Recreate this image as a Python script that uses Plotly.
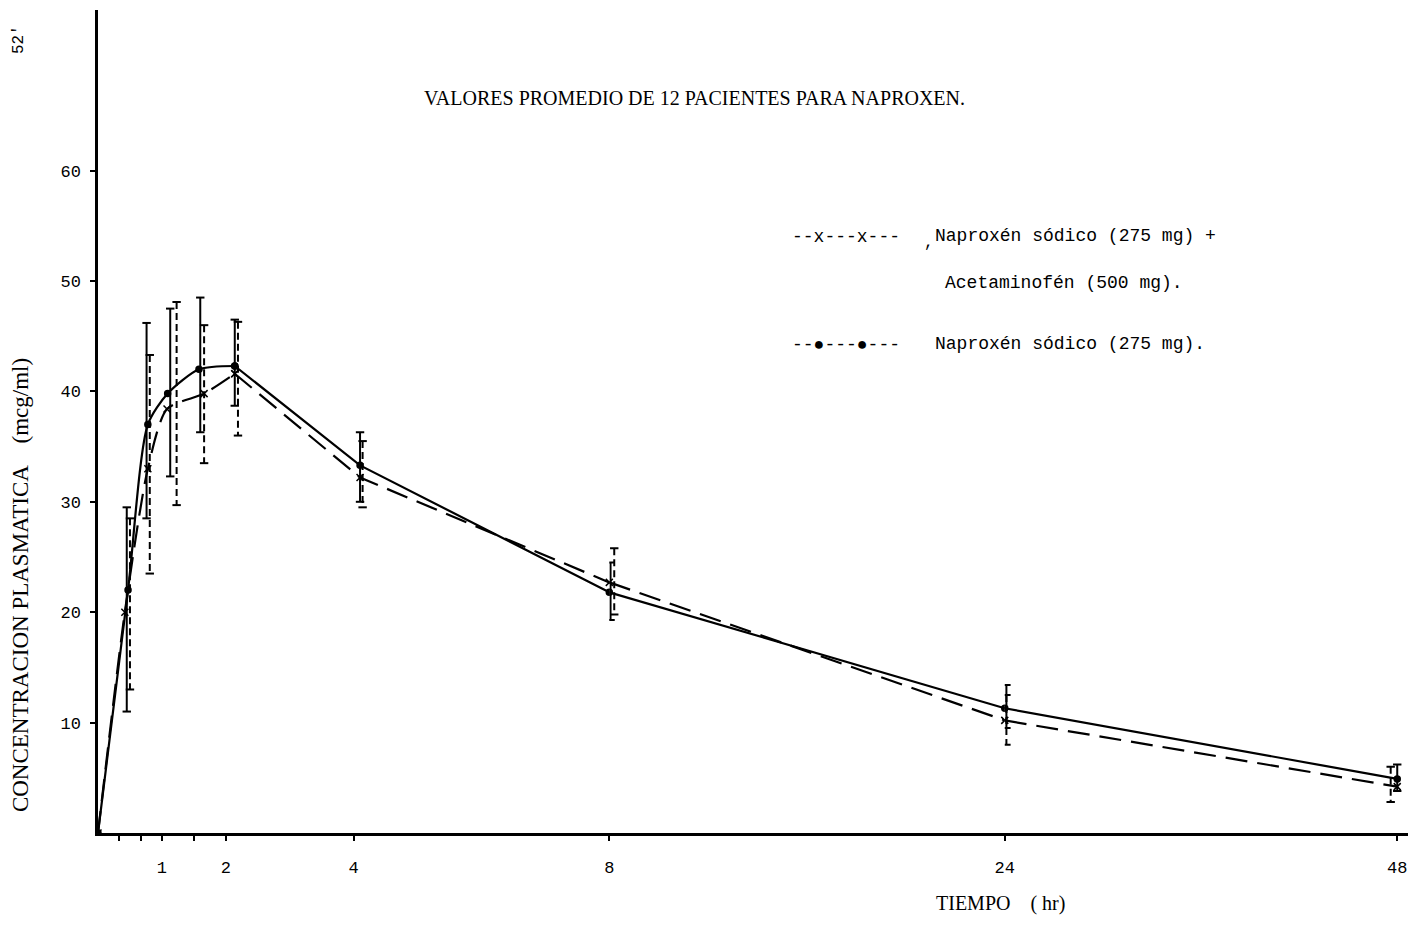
import plotly.graph_objects as go

# ---------------- data ----------------
# Naproxén sódico (275 mg)  -> solid line, dots
t_nap = [0, 0.47, 0.78, 1.09, 1.58, 2.14, 4.1, 8, 24, 48]
c_nap = [0, 22.0, 37.0, 39.8, 42.0, 42.3, 33.3, 21.8, 11.3, 4.9]
bar_t_nap = [0.45, 0.76, 1.13, 1.60, 2.14, 4.10, 8.05, 24.1, 48.0]
bar_hi_nap = [29.5, 46.2, 47.5, 48.5, 46.5, 36.3, 24.5, 13.4, 6.2]
bar_lo_nap = [11.0, 28.5, 32.3, 36.3, 38.7, 30.0, 19.3, 9.5, 3.8]

# Naproxén sódico (275 mg) + Acetaminofén (500 mg) -> dashed line, x
t_comb = [0, 0.42, 0.78, 1.08, 1.66, 2.14, 4.1, 8, 24, 48]
c_comb = [0, 20.0, 33.0, 38.4, 39.8, 41.6, 32.2, 22.7, 10.2, 4.2]
bar_t_comb = [0.50, 0.81, 1.23, 1.66, 2.19, 4.14, 8.20, 24.1, 47.6]
bar_hi_comb = [28.5, 43.3, 48.1, 46.0, 46.3, 35.5, 25.8, 12.5, 6.0]
bar_lo_comb = [13.0, 23.5, 29.7, 33.5, 36.0, 29.5, 19.8, 8.0, 2.8]

# axis ticks
x1_tickvals = [0.33, 0.67, 1, 1.5, 2, 4, 8]
x1_ticktext = ["", "", "1", "", "2", "4", "8"]
x2_tickvals = [24]
x2_ticktext = ["24"]
x3_tickvals = [48]
x3_ticktext = ["48"]
y_tickvals = [10, 20, 30, 40, 50, 60]

title_text = "VALORES PROMEDIO DE 12 PACIENTES PARA NAPROXEN."
ytitle_text = "CONCENTRACION PLASMATICA    (mcg/ml)"
xtitle_text = "TIEMPO    ( hr)"
leg1_sym = "--x---x---"
leg1_a = "Naproxén sódico (275 mg) +"
leg1_b = "Acetaminofén (500 mg)."
leg2_sym = "--●---●---"
leg2_a = "Naproxén sódico (275 mg)."

# ---------------- layout geometry ----------------
W, H = 1418, 949
SX = 1 / 0.9935          # horizontal compensation for the rendered picture
L = 97 * SX
T, B = 10, 833
R = W                     # right end of the x axis
PW, PH = R - L, B - T
X8, X24, X48 = 609 * SX, 1005 * SX, 1398 * SX
d1 = (X8 - L) / PW
d2 = (X24 - L) / PW
x3_max = 24 + 24 * (R - X24) / (X48 - X24)
y_max = (B - T) / 11.04
T_BREAK = 2.14   # curve is rounded up to the peak, straight afterwards


def px(x):
    return (x * SX - L) / PW


def py(y):
    return (B - y) / PH


segments = [("x", 0, 8), ("x2", 8, 24), ("x3", 24, 48.01)]

fig = go.Figure()

MONO = "Liberation Mono"
SERIF = "Liberation Serif"


def line_trace(xs, ys, ax, dash, shape, symbol, msize):
    fig.add_trace(go.Scatter(
        x=xs, y=ys, xaxis=ax, yaxis="y", mode="lines+markers",
        line=dict(color="black", width=2.2, dash=dash, shape=shape, smoothing=0.7),
        marker=dict(symbol=symbol, size=msize, color="black",
                    line=dict(color="black", width=1.5)),
        showlegend=False, hoverinfo="skip"))


def add_series(ts, cs, dash, symbol, msize):
    xs = [t for t in ts if t <= T_BREAK]
    ys = [c for t, c in zip(ts, cs) if t <= T_BREAK]
    line_trace(xs, ys, "x", dash, "spline", symbol, msize)
    xs = [t for t in ts if T_BREAK <= t <= 8]
    ys = [c for t, c in zip(ts, cs) if T_BREAK <= t <= 8]
    line_trace(xs, ys, "x", dash, "linear", symbol, msize)
    for ax, a, b in segments[1:]:
        xs = [t for t in ts if a <= t <= b]
        ys = [c for t, c in zip(ts, cs) if a <= t <= b]
        line_trace(xs, ys, ax, dash, "linear", symbol, msize)


def add_bars(bt, hi, lo, dash):
    for ax, a, b in segments:
        xs, ys = [], []
        for t, h, l in zip(bt, hi, lo):
            if a <= t < b:
                xs += [t, t, None]
                ys += [h, l, None]
        if xs:
            fig.add_trace(go.Scatter(
                x=xs, y=ys, xaxis=ax, yaxis="y", mode="lines+markers",
                line=dict(color="black", width=2, dash=dash),
                marker=dict(symbol="line-ew-open", size=6, color="black",
                            line=dict(color="black", width=2)),
                showlegend=False, hoverinfo="skip"))


add_bars(bar_t_nap, bar_hi_nap, bar_lo_nap, "solid")
add_bars(bar_t_comb, bar_hi_comb, bar_lo_comb, "7px,4px")
add_series(t_nap, c_nap, "solid", "circle", 6)
add_series(t_comb, c_comb, "22px,10px", "x-thin-open", 7)

axis_common = dict(showgrid=False, zeroline=False, showline=True, linecolor="black",
                   linewidth=2.5, ticks="outside", ticklen=5, tickwidth=2,
                   tickcolor="black", anchor="y",
                   tickfont=dict(family=MONO, size=17, color="black"),
                   ticklabelstandoff=12)

fig.update_layout(
    width=W, height=H,
    margin=dict(l=L, r=W - R, t=T, b=H - B, pad=0),
    paper_bgcolor="white", plot_bgcolor="white",
    showlegend=False,
    xaxis=dict(domain=[0, d1], range=[0, 8], tickmode="array",
               tickvals=x1_tickvals, ticktext=x1_ticktext, **axis_common),
    xaxis2=dict(domain=[d1, d2], range=[8, 24], tickmode="array",
                tickvals=x2_tickvals, ticktext=x2_ticktext, **axis_common),
    xaxis3=dict(domain=[d2, 1], range=[24, x3_max], tickmode="array",
                tickvals=x3_tickvals, ticktext=x3_ticktext, **axis_common),
    yaxis=dict(range=[0, y_max], tickmode="array", tickvals=y_tickvals,
               showgrid=False, zeroline=False, showline=True, linecolor="black",
               linewidth=2.5, ticks="outside", ticklen=5, tickwidth=2,
               tickcolor="black", anchor="x",
               tickfont=dict(family=MONO, size=17, color="black"),
               ticklabelstandoff=6),
)


def ann(text, x, y, family, size, xanchor="left", angle=0):
    fig.add_annotation(text=text, x=px(x), y=py(y), xref="paper", yref="paper",
                       xanchor=xanchor, yanchor="middle", showarrow=False,
                       textangle=angle,
                       font=dict(family=family, size=size, color="black"))


ann(title_text, 694, 98, SERIF, 20, xanchor="center")
ann(ytitle_text, 19, 585, SERIF, 23, xanchor="center", angle=-90)
ann(xtitle_text, 1001, 903, SERIF, 20, xanchor="center")
ann("52'", 18, 40, MONO, 16, xanchor="center", angle=-90)
ann(leg1_sym, 790, 237, MONO, 18)
ann(",", 922, 243, MONO, 16)
ann(leg1_a, 933, 236, MONO, 18)
ann(leg1_b, 943, 283, MONO, 18)
ann(leg2_sym, 790, 345, MONO, 18)
ann(leg2_a, 933, 344, MONO, 18)

fig.write_html("out.html")
